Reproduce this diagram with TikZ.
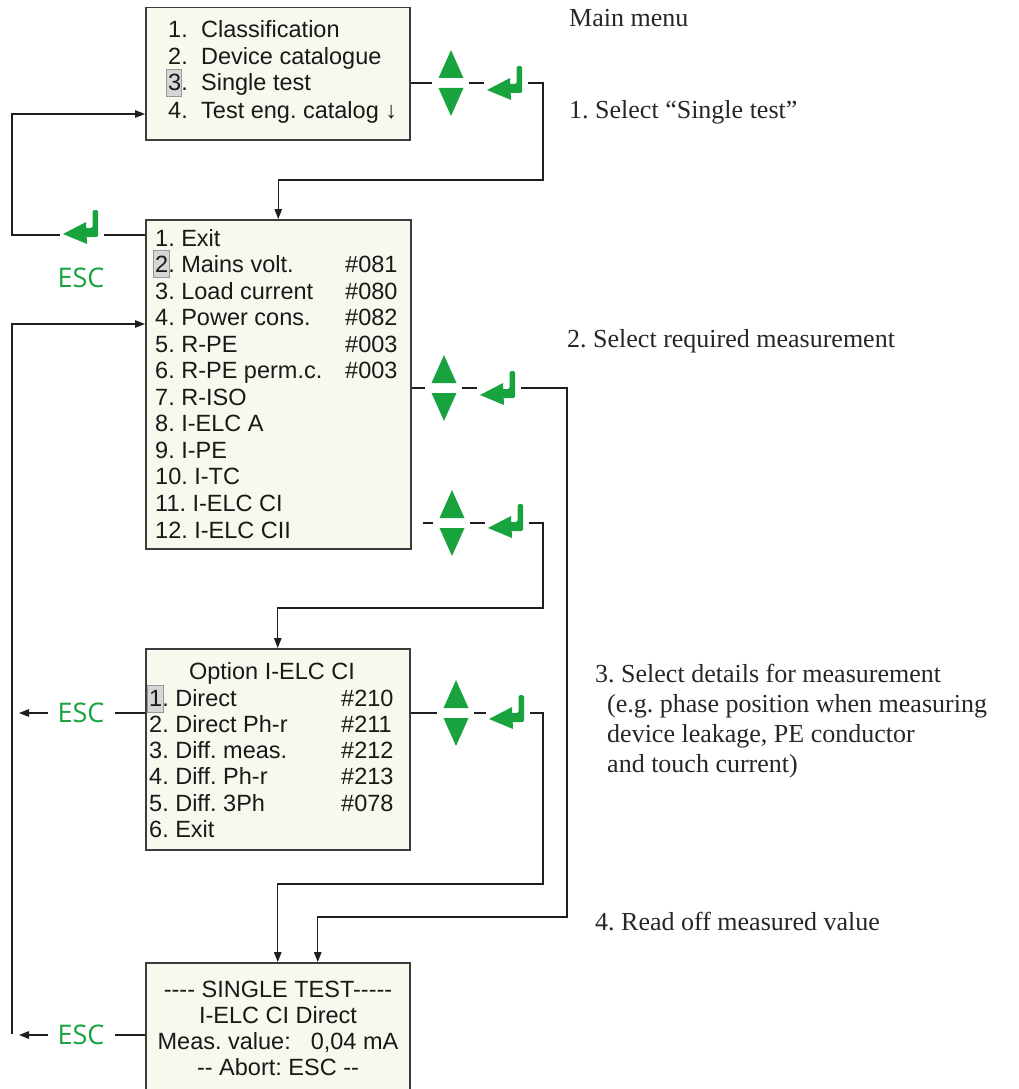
\documentclass[tikz,border=0pt]{standalone}
\usepackage{fontspec}
\setmainfont{Liberation Serif}
\newfontfamily\menufont{Liberation Sans}[Ligatures=TeXOff]
\newfontfamily\escfont{Open Sans}
\usetikzlibrary{arrows.meta, calc}
\definecolor{cKey}{HTML}{19A33E}
\definecolor{cScreen}{HTML}{F8F8EE}
\definecolor{cFrame}{HTML}{3C3C3C}
\definecolor{cLine}{HTML}{1E1E1E}
\definecolor{cCursor}{HTML}{D6D6D6}
\frenchspacing

\tikzset{
  pics/updown/.style={code={
    \fill[cKey] (-12.5,-5) -- (12.5,-5) -- (0,-33) -- cycle;
    \fill[cKey] (-12.5,5) -- (12.5,5) -- (0,33) -- cycle;
    \coordinate (-w) at (-19,0);
    \coordinate (-e) at (18,0);
  }},
  pics/enterkey/.style={code={
    \fill[cKey] (0,#1) -- (23,#1-12) -- (24,#1+10) -- cycle;
    \fill[cKey, rounded corners=1.5pt] (18,#1-6) -- (29.5,#1-6) -- (29.5,#1-24)
        -- (35,#1-24) -- (35,#1+3) -- (18,#1+3) -- cycle;
    \coordinate (-w) at (-3,0);
    \coordinate (-e) at (41,0);
  }},
}

\begin{document}
\begin{tikzpicture}[
    x=1pt, y=-1pt,
    screen/.style={draw=cFrame, line width=1.5pt, fill=cScreen,
                   anchor=north west, inner sep=0pt},
    cursor/.style={draw=black!40, line width=0.8pt, fill=cCursor},
    row/.style={font=\menufont\fontsize{23.5}{26}\selectfont,
                anchor=base west, inner sep=0pt, text=black!90},
    rowc/.style={row, anchor=base},
    note/.style={font=\fontsize{26}{30}\selectfont, anchor=base west,
                 inner sep=0pt, text=black!85},
    esc/.style={font=\escfont\fontsize{27}{27}\selectfont, text=cKey,
                inner sep=0pt},
    wire/.style={line width=1.3pt, draw=cLine},
    flow/.style={wire, -{Triangle[length=10pt, width=7.5pt]}},
]
\useasboundingbox (0,0) rectangle (1018,1089);

% ===================== Pantallas =====================
\node[screen, minimum width=264pt, minimum height=132pt] (mainmenu) at (145,7) {};
\node[screen, minimum width=265pt, minimum height=329pt] (testlist) at (145,219) {};
\node[screen, minimum width=264pt, minimum height=201pt] (option) at (145,648) {};
\node[screen, minimum width=264pt, minimum height=135pt] (result) at (145,962) {};

% cursor
\draw[cursor] (166,69) rectangle (181,96);
\draw[cursor] (153,250) rectangle (169,277);
\draw[cursor] (147,685) rectangle (163,712);

% ===================== Main menu =====================
\foreach \y/\n/\t [count=\i] in {38/1./Classification, 65/2./Device catalogue,
                                 91/3./Single test, 118/4./{Test eng. catalog ↓}} {
    \node[row] (mm-n\i) at (168,\y) {\n};
    \node[row] (mm-t\i) at (201,\y) {\t};
}

% ===================== Single test list =====================
\foreach \t [count=\i] in {1. Exit, 2. Mains volt., 3. Load current, 4. Power cons.,
                           5. R-PE, 6. R-PE perm.c., 7. R-ISO, 8. I-ELC A, 9. I-PE,
                           10. I-TC, 11. I-ELC CI, 12. I-ELC CII} {
    \node[row] (tl-\i) at (155,{246+26.55*(\i-1)}) {\t};
}
\foreach \i/\c in {2/081, 3/080, 4/082, 5/003, 6/003} {
    \node[row] (tl-c\i) at (345,{246+26.55*(\i-1)}) {\#\c};
}

% ===================== Option I-ELC CI =====================
\node[rowc] (op-title) at (272,679) {Option I-ELC CI};
\foreach \t [count=\i] in {1. Direct, 2. Direct Ph-r, 3. Diff. meas., 4. Diff. Ph-r,
                           5. Diff. 3Ph, 6. Exit} {
    \node[row] (op-\i) at (149,{706+26.3*(\i-1)}) {\t};
}
\foreach \i/\c in {1/210, 2/211, 3/212, 4/213, 5/078} {
    \node[row] (op-c\i) at (341,{706+26.3*(\i-1)}) {\#\c};
}

% ===================== Single test result =====================
\foreach \t [count=\i] in {{---- SINGLE TEST-----}, {I-ELC CI Direct},
                           {Meas. value:\hspace{20pt}0,04 mA}, {-- Abort: ESC --}} {
    \node[rowc] (rs-\i) at (278,{997+26*(\i-1)}) {\t};
}

% ===================== Teclas =====================
\pic (ud1) at (451,83) {updown};
\pic (en1) at (487,83) {enterkey=7};
\pic (ud2) at (444,388) {updown};
\pic (en2) at (480,388) {enterkey=7};
\pic (ud3) at (452,523) {updown};
\pic (en3) at (488,523) {enterkey=5};
\pic (ud4) at (456,713) {updown};
\pic (en4) at (489,713) {enterkey=6};
\pic (enesc) at (63,235) {enterkey=-1};

\node[esc] (esc-list) at (81,278) {ESC};
\node[esc] (esc-opt) at (81,713) {ESC};
\node[esc] (esc-res) at (81,1035) {ESC};

% ===================== Conexiones =====================
\coordinate (k1) at (543,180);
\coordinate (k2) at (12,114);
\coordinate (k3) at (567,917);
\coordinate (k4) at (543,608);
\coordinate (k5) at (543,884);
\coordinate (railtop) at (12,324);
\coordinate (railbot) at (12,1034);

% main menu -> list
\draw[wire] (ud1-w -| mainmenu.east) -- (ud1-w);
\draw[wire] (ud1-e) -- (en1-w);
\draw[flow] (en1-e) -| (k1) -| (testlist.north);

% list -> main menu (ESC)
\draw[wire] (enesc-e -| testlist.west) -- (enesc-e);
\draw[flow] (enesc-w) -| (k2) -- (k2 -| mainmenu.west);

% list -> result
\draw[wire] (ud2-w -| testlist.east) -- (ud2-w);
\draw[wire] (ud2-e) -- (en2-w);
\draw[flow] (en2-e) -| (k3) -| ([xshift=40pt]result.north);

% list -> option
\draw[wire] ([xshift=-10pt]ud3-w) -- (ud3-w);
\draw[wire] (ud3-e) -- (en3-w);
\draw[flow] (en3-e) -| (k4) -| (option.north);

% option -> result
\draw[wire] (ud4-w -| option.east) -- (ud4-w);
\draw[wire] (ud4-e) -- (en4-w);
\draw[flow] (en4-e) -| (k5) -| (result.north);

% ESC back to the list
\draw[wire, shorten >=10pt] (esc-opt -| option.west) -- (esc-opt.east);
\draw[flow, shorten <=9pt, shorten >=7pt] (esc-opt.west) -- (esc-opt -| railtop);
\draw[wire, shorten >=10pt] (esc-res -| result.west) -- (esc-res.east);
\draw[flow, shorten <=9pt, shorten >=7pt] (esc-res.west) -- (esc-res -| railtop);
\draw[flow] (railbot) -- (railtop) -- (railtop -| testlist.west);

% ===================== Pasos =====================
\node[note] (n-main) at (569,27) {Main menu};
\node[note] (n-step1) at (569,118) {1. Select “Single test”};
\node[note] (n-step2) at (567,347) {2. Select required measurement};
\foreach \x/\y/\t [count=\i] in {595/682/{3. Select details for measurement},
                                 607/712/{(e.g. phase position when measuring},
                                 607/742/{device leakage, PE conductor},
                                 607/772/{and touch current)}} {
    \node[note] (n-step3-\i) at (\x,\y) {\t};
}
\node[note] (n-step4) at (595,930) {4. Read off measured value};

\end{tikzpicture}
\end{document}
